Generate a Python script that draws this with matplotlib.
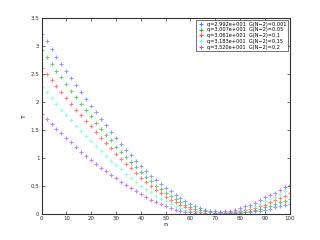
import matplotlib
matplotlib.use("Agg")
import matplotlib.pyplot as plt
import numpy as np

n = list(range(0, 101, 2))

t_001 = [3.21, 3.08, 2.94, 2.81, 2.68, 2.56, 2.43, 2.30, 2.18, 2.05,
         1.93, 1.81, 1.69, 1.58, 1.46, 1.35, 1.24, 1.14, 1.04, 0.94,
         0.85, 0.76, 0.68, 0.60, 0.53, 0.46, 0.40, 0.33, 0.28, 0.23,
         0.18, 0.14, 0.10, 0.07, 0.05, 0.04, 0.02, 0.01, 0.01, 0.01,
         0.01, 0.02, 0.03, 0.04, 0.05, 0.07, 0.09, 0.11, 0.13, 0.16, 0.18]
t_005 = [2.93, 2.81, 2.68, 2.56, 2.44, 2.32, 2.20, 2.09, 1.97, 1.86,
         1.74, 1.63, 1.52, 1.41, 1.31, 1.20, 1.10, 1.01, 0.92, 0.83,
         0.74, 0.66, 0.58, 0.50, 0.44, 0.37, 0.31, 0.26, 0.21, 0.16,
         0.12, 0.09, 0.06, 0.04, 0.02, 0.01, 0.01, 0.00, 0.01, 0.01,
         0.02, 0.03, 0.05, 0.07, 0.09, 0.11, 0.14, 0.17, 0.20, 0.23, 0.27]
t_010 = [2.61, 2.50, 2.39, 2.29, 2.18, 2.07, 1.97, 1.86, 1.76, 1.66,
         1.56, 1.46, 1.36, 1.26, 1.17, 1.07, 0.98, 0.89, 0.81, 0.72,
         0.64, 0.57, 0.49, 0.43, 0.36, 0.30, 0.25, 0.20, 0.15, 0.11,
         0.08, 0.05, 0.03, 0.01, 0.00, 0.00, 0.00, 0.01, 0.02, 0.03,
         0.04, 0.06, 0.08, 0.10, 0.13, 0.16, 0.20, 0.24, 0.28, 0.32, 0.37]
t_015 = [2.27, 2.17, 2.06, 1.96, 1.86, 1.76, 1.67, 1.57, 1.48, 1.39,
         1.30, 1.21, 1.12, 1.03, 0.95, 0.87, 0.79, 0.71, 0.64, 0.57,
         0.50, 0.44, 0.38, 0.32, 0.27, 0.22, 0.18, 0.14, 0.10, 0.07,
         0.05, 0.03, 0.01, 0.00, 0.00, 0.00, 0.01, 0.02, 0.03, 0.04,
         0.06, 0.08, 0.11, 0.14, 0.18, 0.22, 0.26, 0.30, 0.35, 0.40, 0.45]
t_020 = [1.78, 1.69, 1.61, 1.52, 1.44, 1.36, 1.28, 1.19, 1.11, 1.03,
         0.96, 0.89, 0.82, 0.76, 0.69, 0.63, 0.57, 0.51, 0.45, 0.40,
         0.35, 0.30, 0.25, 0.21, 0.17, 0.13, 0.10, 0.07, 0.05, 0.03,
         0.02, 0.01, 0.00, 0.00, 0.00, 0.01, 0.02, 0.04, 0.05, 0.07,
         0.10, 0.13, 0.16, 0.19, 0.24, 0.29, 0.33, 0.37, 0.42, 0.47, 0.52]

labels = ["q=2.992e+001  G(N\u22122)=0.001",
          "q=3.007e+001  G(N\u22122)=0.05",
          "q=3.061e+001  G(N\u22122)=0.1",
          "q=3.183e+001  G(N\u22122)=0.15",
          "q=3.520e+001  G(N\u22122)=0.2"]
colors = ["#5a78ff", "#3cb43c", "#ff4c4c", "#70ffcc", "#a850ff"]
series = [t_001, t_005, t_010, t_015, t_020]

fig = plt.figure(figsize=(3.2, 2.4), dpi=100)
ax = fig.add_axes([0.13, 0.11, 0.775, 0.815])

for ys, c, lab in zip(series, colors, labels):
    ax.plot(n, ys, linestyle="none", marker="+", markersize=3.5,
            markeredgewidth=0.8, color=c, alpha=0.7, label=lab)

ax.set_xlim(0, 100)
ax.set_ylim(0, 3.5)
ax.set_xticks(np.arange(0, 101, 10))
ax.set_yticks(np.arange(0, 3.51, 0.5))
ax.set_yticklabels(["0", "0.5", "1", "1.5", "2", "2.5", "3", "3.5"])
ax.tick_params(direction="in", top=True, right=True, labelsize=4,
               length=2, width=0.5, pad=1.5, colors="#333333")
for sp in ax.spines.values():
    sp.set_linewidth(0.8)
    sp.set_color("#333333")
ax.set_xlabel("n", fontsize=4.5, labelpad=1)
ax.set_ylabel("T", fontsize=4.5, labelpad=3)

leg = ax.legend(loc="upper right", fontsize=3.6, frameon=True, fancybox=False,
                borderpad=0.3, labelspacing=0.15, handlelength=1.2,
                handletextpad=0.6, borderaxespad=0.4)
leg.get_frame().set_edgecolor("#333333")
leg.get_frame().set_linewidth(0.6)
for h in leg.legend_handles:
    h.set_alpha(1.0)

fig.savefig("out.png", dpi=100)
